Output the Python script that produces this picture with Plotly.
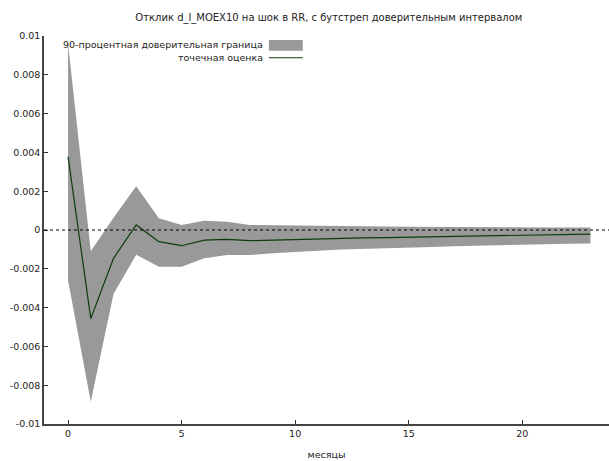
import plotly.graph_objects as go

months = list(range(24))
point_est = [0.00378, -0.00457, -0.00146, 0.00026, -0.0006, -0.00081, -0.00052, -0.00048,
             -0.00055, -0.00052, -0.00047, -0.00045, -0.00043, -0.00041, -0.00039, -0.00037,
             -0.00035, -0.00033, -0.00031, -0.00029, -0.00028, -0.00026, -0.00023, -0.00021]
lower_band = [-0.0026, -0.00885, -0.0033, -0.00127, -0.00189, -0.00189, -0.00146, -0.00129,
              -0.00129, -0.0012, -0.00112, -0.00107, -0.00101, -0.00097, -0.00093, -0.0009,
              -0.00087, -0.00084, -0.00081, -0.00078, -0.00075, -0.00073, -0.00071, -0.00069]
upper_band = [0.0096, -0.0011, 0.00063, 0.00226, 0.0006, 0.00026, 0.00048, 0.00043,
              0.00026, 0.00024, 0.00023, 0.00022, 0.0002, 0.00019, 0.00018, 0.00017,
              0.00016, 0.00015, 0.00014, 0.00014, 0.00013, 0.00013, 0.00013, 0.00013]
x_ticks = [0, 5, 10, 15, 20]
y_ticks = [-0.01, -0.008, -0.006, -0.004, -0.002, 0, 0.002, 0.004, 0.006, 0.008, 0.01]
y_tick_labels = ["-0.01", "-0.008", "-0.006", "-0.004", "-0.002", "0",
                 "0.002", "0.004", "0.006", "0.008", "0.01"]
band_name = "90-процентная доверительная граница"
line_name = "точечная оценка"
title_text = "Отклик d_l_MOEX10 на шок в RR, с бутстреп доверительным интервалом"
x_title = "месяцы"

band_color = "#999999"
line_color = "#0b3d0b"
font = dict(family="DejaVu Sans", size=9.5, color="#222222")
title_font = dict(family="DejaVu Sans", size=10, color="#222222")

fig = go.Figure()
fig.add_trace(go.Scatter(x=months + months[::-1], y=upper_band + lower_band[::-1],
                         fill="toself", fillcolor=band_color, mode="lines",
                         line=dict(width=0, color=band_color), name=band_name,
                         showlegend=False, hoverinfo="skip"))
fig.add_trace(go.Scatter(x=months, y=point_est, mode="lines",
                         line=dict(color=line_color, width=1.2), name=line_name,
                         showlegend=False))

# zero line
fig.add_shape(type="line", xref="paper", yref="y", x0=0, x1=1, y0=0, y1=0,
              line=dict(color="black", width=1, dash="dot"))

# manual legend (text right-aligned, key to the right as in the original)
fig.add_annotation(xref="paper", yref="paper", x=0.391, y=0.977, xanchor="right",
                   yanchor="middle", text=band_name, showarrow=False, font=font)
fig.add_shape(type="rect", xref="paper", yref="paper", x0=0.398, x1=0.458,
              y0=0.962, y1=0.99, fillcolor=band_color, line=dict(width=0))
fig.add_annotation(xref="paper", yref="paper", x=0.391, y=0.944, xanchor="right",
                   yanchor="middle", text=line_name, showarrow=False, font=font)
fig.add_shape(type="line", xref="paper", yref="paper", x0=0.398, x1=0.458,
              y0=0.944, y1=0.944, line=dict(color=line_color, width=1.2))

fig.update_layout(
    width=609, height=461,
    margin=dict(l=44, r=0, t=36, b=37),
    paper_bgcolor="white", plot_bgcolor="white",
    font=font,
    title=dict(text=title_text, x=0.54, xanchor="center", y=0.963, yanchor="middle",
               font=title_font),
    showlegend=False,
)
fig.update_xaxes(range=[-1.06, 23.82], tickvals=x_ticks, ticks="inside", ticklen=4,
                 tickcolor="#333", showgrid=False, zeroline=False, showline=True,
                 linecolor="#444", linewidth=1.5, mirror=False,
                 title=dict(text=x_title, font=font, standoff=13))
fig.update_yaxes(range=[-0.01, 0.01], tickvals=y_ticks, ticktext=y_tick_labels,
                 ticks="inside", ticklen=4, tickcolor="#333", showgrid=False,
                 zeroline=False, showline=True, linecolor="#444", linewidth=1.5)

fig.write_html("out.html")
